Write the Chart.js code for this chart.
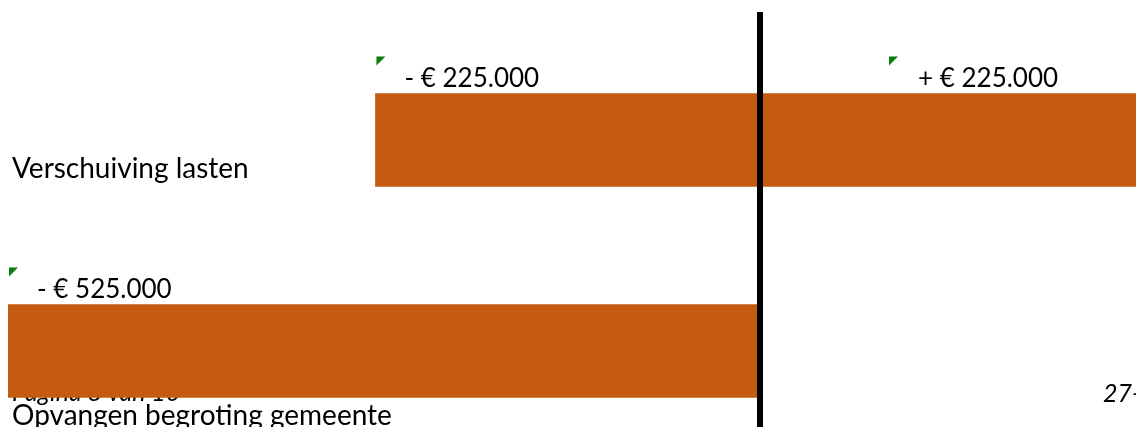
<!DOCTYPE html>
<html>
<head>
<meta charset="utf-8">
<script src="https://cdn.jsdelivr.net/npm/chart.js@4"></script>
<style>
  html, body { margin: 0; padding: 0; background: #ffffff; }
  #wrap { width: 1136px; height: 427px; }
</style>
</head>
<body>
<div id="wrap"><canvas id="shift-chart" width="1136" height="427"></canvas></div>
<script>
  // categories and floating bar ranges (euro)
  const categories = ['Verschuiving lasten', 'Opvangen begroting gemeente'];
  const startValues = [-225000, -525000];
  const endValues = [225000, 0];

  // visible part of the value axis
  const axisMin = -440000;
  const axisMax = 220000;

  const pageFooter = ['Pagina 8 van 10', '27-'];

  const FONT = 'Lato, "Open Sans", sans-serif';
  const BAR_COLOR = '#C55A11';

  function formatEuro(v) {
    const sign = v < 0 ? '- ' : '+ ';
    const digits = String(Math.abs(v)).replace(/\B(?=(\d{3})+(?!\d))/g, '.');
    return sign + '€ ' + digits;
  }

  function drawMarker(ctx, x, y) {
    ctx.fillStyle = '#0a7d0a';
    ctx.beginPath();
    ctx.moveTo(x, y);
    ctx.lineTo(x + 9, y);
    ctx.lineTo(x, y + 9);
    ctx.closePath();
    ctx.fill();
  }

  const decorations = {
    id: 'decorations',
    beforeDatasetsDraw(chart) {
      const ctx = chart.ctx;
      ctx.save();
      ctx.fillStyle = '#000';
      ctx.font = 'italic 25px ' + FONT;
      ctx.textBaseline = 'alphabetic';
      ctx.fillText(pageFooter[0], 12, 401);
      ctx.fillText(pageFooter[1], 1103, 402);
      ctx.restore();
    },
    afterDatasetsDraw(chart) {
      const ctx = chart.ctx;
      const xs = chart.scales.x;
      const area = chart.chartArea;
      const meta = chart.getDatasetMeta(0);
      const x0 = xs.getPixelForValue(0);
      const labelDy = [38, 74];

      ctx.save();
      // zero line
      ctx.fillStyle = '#000';
      ctx.fillRect(Math.round(x0) - 3, 12, 6, chart.height - 12);

      ctx.textBaseline = 'alphabetic';
      meta.data.forEach(function (bar, i) {
        const p = bar.getProps(['y', 'height'], true);
        const top = p.y - p.height / 2;
        const s = startValues[i];
        const e = endValues[i];

        ctx.font = '26px ' + FONT;
        if (s < 0) {
          const ax = Math.max(xs.getPixelForValue(s), area.left) + 1;
          drawMarker(ctx, ax, top - 37);
          ctx.fillStyle = '#000';
          ctx.fillText(formatEuro(s), ax + 28, top - 7);
        }
        if (e > 0) {
          const ax = x0 + 129;
          drawMarker(ctx, ax, top - 37);
          ctx.fillStyle = '#000';
          ctx.fillText(formatEuro(e), ax + 29, top - 7);
        }

        ctx.fillStyle = '#000';
        ctx.font = '28px ' + FONT;
        ctx.fillText(categories[i], 12, p.y + labelDy[i]);
      });
      ctx.restore();
    }
  };

  const barData = categories.map(function (c, i) {
    return [startValues[i], endValues[i]];
  });

  new Chart(document.getElementById('shift-chart'), {
    type: 'bar',
    data: {
      labels: categories,
      datasets: [{
        data: barData,
        backgroundColor: BAR_COLOR,
        borderWidth: 0,
        barThickness: 93,
        clip: { left: 0, top: false, right: false, bottom: false }
      }]
    },
    options: {
      indexAxis: 'y',
      responsive: false,
      animation: false,
      devicePixelRatio: 1,
      layout: { padding: { left: 8, right: 0, top: 140, bottom: 76 } },
      scales: {
        x: { type: 'linear', min: axisMin, max: axisMax, display: false },
        y: { type: 'category', display: false, offset: false }
      },
      plugins: {
        legend: { display: false },
        tooltip: { enabled: false }
      }
    },
    plugins: [decorations]
  });
</script>
</body>
</html>
